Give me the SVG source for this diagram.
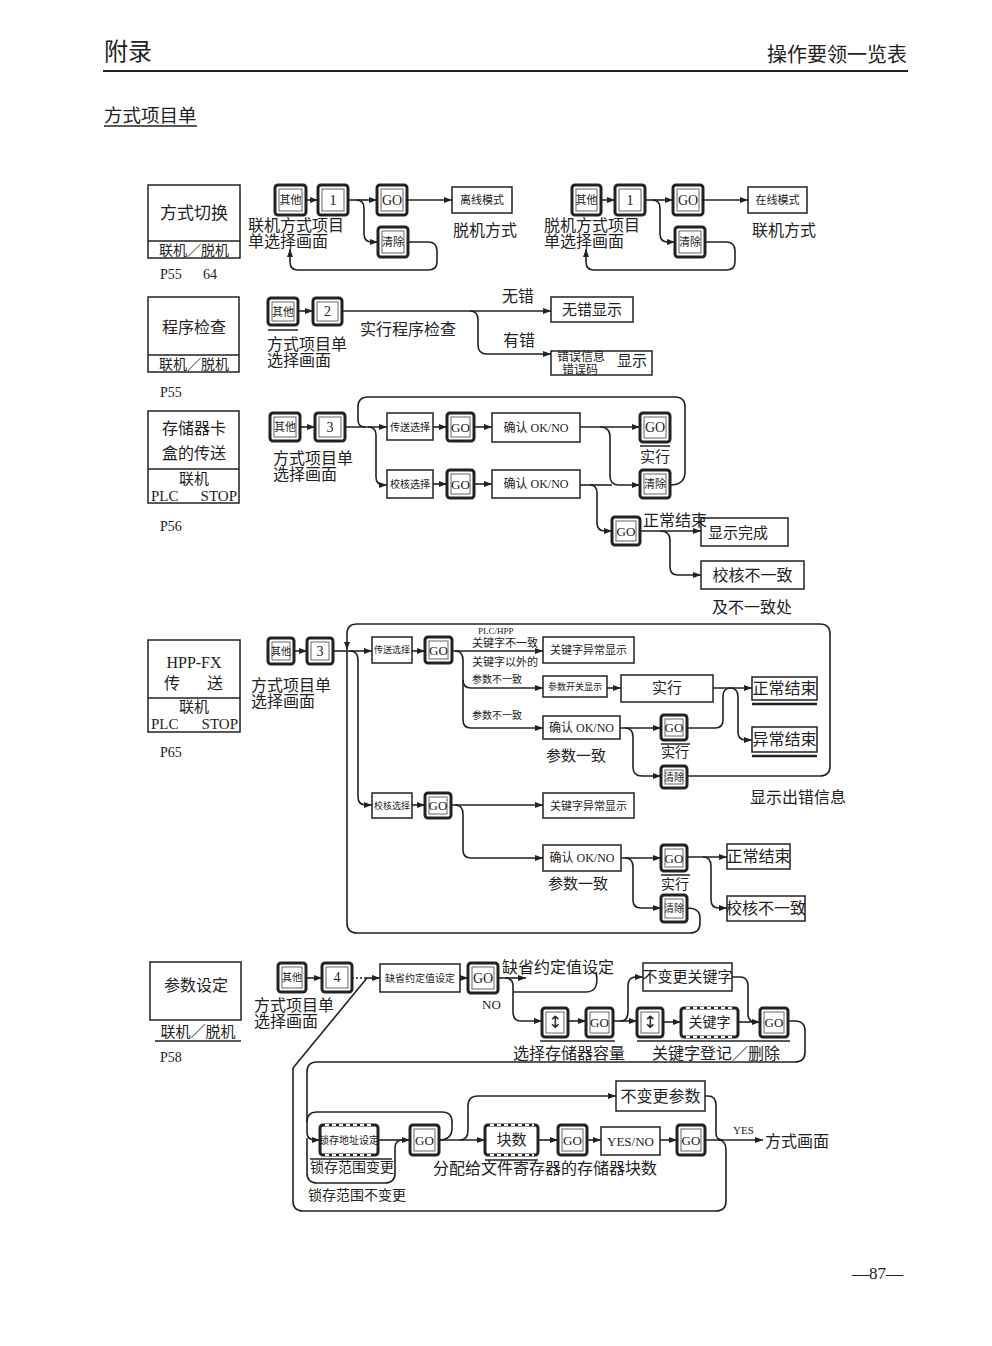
<svg xmlns="http://www.w3.org/2000/svg" width="992" height="1346" viewBox="0 0 992 1346">
<style>
text{font-family:"Liberation Serif","Noto Sans CJK SC",serif;fill:#222;dominant-baseline:central}
.m{text-anchor:middle}
.e{text-anchor:end}
.k{fill:#fff;stroke:#222;stroke-width:3}
.ki{fill:none;stroke:#666;stroke-width:1}
.b{fill:#fff;stroke:#222;stroke-width:1.5}
.c{fill:none;stroke:#222;stroke-width:1.6}
.ca{fill:none;stroke:#222;stroke-width:1.6;marker-end:url(#a)}
.u{stroke:#222;stroke-width:1.5}
.uu{stroke:#222;stroke-width:2.5}
.d{stroke:#fff;stroke-width:2;stroke-dasharray:4 3}
.f9{font-size:9px}.f10{font-size:10px}.f11{font-size:11px}.f12{font-size:12px}.f13{font-size:13px}
.f14{font-size:14px}.f15{font-size:15px}.f16{font-size:16px}.f17{font-size:17px}.f18{font-size:18.5px}.f20{font-size:20px}.f24{font-size:24px}
.sym{font-family:"DejaVu Sans",sans-serif;font-size:17px}
</style>
<defs>
<marker id="a" viewBox="0 0 8 6" refX="8" refY="3" markerWidth="8" markerHeight="6" orient="auto" markerUnits="userSpaceOnUse"><path d="M0,0 L8,3 L0,6 z" fill="#222"/></marker>
</defs>
<rect width="992" height="1346" fill="#fff"/>

<g id="header">
<text class="f24" x="104" y="52">附录</text>
<text class="f20 e" x="907" y="55">操作要领一览表</text>
<line x1="103" y1="71" x2="908" y2="71" stroke="#222" stroke-width="2"/>
<text class="f18" x="104" y="116">方式项目单</text>
<line class="u" x1="104" y1="126" x2="197" y2="126" stroke-width="1"/>
<text class="f17" x="852" y="1273">—87—</text>
</g>

<!-- ===== Section 1 ===== -->
<g id="mode-switch">
<rect class="b" x="148" y="185" width="92" height="73"/>
<line class="u" x1="148" y1="241" x2="240" y2="241"/>
<text class="m f17" x="194" y="213">方式切换</text>
<text class="m f14" x="194" y="250">联机／脱机</text>
<text class="f14" x="160" y="274">P55</text><text class="f14" x="203" y="274">64</text>
</g>
<g id="s1-other"><rect class="k" x="275" y="185" width="31" height="30" rx="3"/><rect class="ki" x="279" y="189" width="23" height="22"/><text class="m f11" x="290.5" y="200">其他</text></g>
<g id="s1-1"><rect class="k" x="318" y="185" width="30" height="30" rx="3"/><rect class="ki" x="322" y="189" width="22" height="22"/><text class="m f15" x="333" y="200">1</text></g>
<g id="s1-go"><rect class="k" x="377" y="185" width="30" height="30" rx="3"/><rect class="ki" x="381" y="189" width="22" height="22"/><text class="m f14" x="392" y="200">GO</text></g>
<g id="s1-offline"><rect class="b" x="452" y="187" width="60" height="26"/><text class="m f11" x="482" y="200">离线模式</text></g>
<g id="s1-clear"><rect class="k" x="378" y="227" width="30" height="30" rx="3"/><rect class="ki" x="382" y="231" width="22" height="22"/><text class="m f11" x="393" y="242">清除</text></g>
<g id="s1-labels">
<text class="f16" x="248" y="225">联机方式项目</text>
<text class="f16" x="248" y="241">单选择画面</text>
<text class="f16" x="453" y="230">脱机方式</text>
<text class="f16" x="544" y="225">脱机方式项目</text>
<text class="f16" x="544" y="241">单选择画面</text>
<text class="f16" x="752" y="230">联机方式</text>
</g>
<g id="s1b-other"><rect class="k" x="572" y="185" width="29" height="30" rx="3"/><rect class="ki" x="576" y="189" width="21" height="22"/><text class="m f11" x="586.5" y="200">其他</text></g>
<g id="s1b-1"><rect class="k" x="615" y="185" width="30" height="30" rx="3"/><rect class="ki" x="619" y="189" width="22" height="22"/><text class="m f15" x="630" y="200">1</text></g>
<g id="s1b-go"><rect class="k" x="673" y="185" width="30" height="30" rx="3"/><rect class="ki" x="677" y="189" width="22" height="22"/><text class="m f14" x="688" y="200">GO</text></g>
<g id="s1b-online"><rect class="b" x="748" y="187" width="59" height="26"/><text class="m f11" x="777.5" y="200">在线模式</text></g>
<g id="s1b-clear"><rect class="k" x="675" y="227" width="30" height="30" rx="3"/><rect class="ki" x="679" y="231" width="22" height="22"/><text class="m f11" x="690" y="242">清除</text></g>

<!-- ===== Section 2 ===== -->
<g id="prog-check">
<rect class="b" x="148" y="297" width="91" height="75"/>
<line class="u" x1="148" y1="355" x2="239" y2="355"/>
<text class="m f16" x="194" y="327">程序检查</text>
<text class="m f14" x="194" y="364">联机／脱机</text>
<text class="f14" x="160" y="392">P55</text>
</g>
<g id="s2-other"><rect class="k" x="268" y="298" width="30" height="27" rx="3"/><rect class="ki" x="272" y="302" width="22" height="19"/><text class="m f11" x="283" y="311.5">其他</text><line class="u" x1="268" y1="330" x2="298" y2="330"/></g>
<g id="s2-2"><rect class="k" x="313" y="298" width="29" height="27" rx="3"/><rect class="ki" x="317" y="302" width="21" height="19"/><text class="m f14" x="327.5" y="311.5">2</text></g>
<g id="s2-noerr"><rect class="b" x="551" y="297" width="82" height="25"/><text class="m f15" x="592" y="310">无错显示</text></g>
<g id="s2-err"><rect class="b" x="551" y="351" width="101" height="24"/><text class="f12" x="557" y="357">错误信息</text><text class="f12" x="562" y="370">错误码</text><text class="f15" x="617" y="361">显示</text></g>
<g id="s2-labels">
<text class="f16" x="502" y="296">无错</text>
<text class="f16" x="503" y="340">有错</text>
<text class="f16" x="360" y="329">实行程序检查</text>
<text class="f16" x="267" y="344">方式项目单</text>
<text class="f16" x="267" y="360">选择画面</text>
</g>

<!-- ===== Section 3 ===== -->
<g id="card-transfer">
<rect class="b" x="148" y="411" width="91" height="92"/>
<line class="u" x1="148" y1="469" x2="239" y2="469"/>
<text class="m f16" x="194" y="428">存储器卡</text>
<text class="m f16" x="194" y="453">盒的传送</text>
<text class="m f15" x="194" y="479">联机</text>
<text class="f15" x="151" y="496">PLC</text><text class="f15 e" x="237" y="496">STOP</text>
<text class="f14" x="160" y="526">P56</text>
</g>
<g id="s3-other"><rect class="k" x="270" y="413" width="30" height="28" rx="3"/><rect class="ki" x="274" y="417" width="22" height="20"/><text class="m f11" x="285" y="427">其他</text></g>
<g id="s3-3"><rect class="k" x="315" y="413" width="30" height="28" rx="3"/><rect class="ki" x="319" y="417" width="22" height="20"/><text class="m f14" x="330" y="427">3</text></g>
<g id="s3-send"><rect class="b" x="387" y="413" width="46" height="27"/><text class="m f10" x="410" y="427">传送选择</text></g>
<g id="s3-go1"><rect class="k" x="447" y="413" width="27" height="28" rx="3"/><rect class="ki" x="451" y="417" width="19" height="20"/><text class="m f13" x="460.5" y="427">GO</text></g>
<g id="s3-ok1"><rect class="b" x="492" y="413" width="88" height="29"/><text class="m f12" x="536" y="427.5">确认 OK/NO</text></g>
<g id="s3-go2"><rect class="k" x="640" y="413" width="30" height="29" rx="3"/><rect class="ki" x="644" y="417" width="22" height="21"/><text class="m f14" x="655" y="427.5">GO</text><line class="u" x1="640" y1="446" x2="670" y2="446"/></g>
<g id="s3-clear"><rect class="k" x="640" y="470" width="30" height="28" rx="3"/><rect class="ki" x="644" y="474" width="22" height="20"/><text class="m f11" x="655" y="484">清除</text></g>
<g id="s3-verify"><rect class="b" x="387" y="470" width="46" height="28"/><text class="m f10" x="410" y="484">校核选择</text></g>
<g id="s3-go3"><rect class="k" x="447" y="470" width="27" height="28" rx="3"/><rect class="ki" x="451" y="474" width="19" height="20"/><text class="m f13" x="460.5" y="484">GO</text></g>
<g id="s3-ok2"><rect class="b" x="492" y="470" width="88" height="28"/><text class="m f12" x="536" y="484">确认 OK/NO</text></g>
<g id="s3-go4"><rect class="k" x="612" y="517" width="28" height="28" rx="3"/><rect class="ki" x="616" y="521" width="20" height="20"/><text class="m f13" x="626" y="531">GO</text></g>
<g id="s3-done"><rect class="b" x="701" y="518" width="87" height="28"/><text class="f15" x="708" y="533">显示完成</text></g>
<g id="s3-mismatch"><rect class="b" x="701" y="561" width="103" height="28"/><text class="m f16" x="752.5" y="575">校核不一致</text></g>
<g id="s3-labels">
<text class="f16" x="273" y="458">方式项目单</text>
<text class="f16" x="273" y="474">选择画面</text>
<text class="m f15" x="655" y="457">实行</text>
<text class="f16" x="643" y="520">正常结束</text>
<text class="f16" x="712" y="607">及不一致处</text>
</g>

<!-- ===== Section 4 ===== -->
<g id="hpp-fx">
<rect class="b" x="148" y="640" width="92" height="92"/>
<line class="u" x1="148" y1="698" x2="240" y2="698"/>
<text class="m f16" x="194" y="662">HPP-FX</text>
<text class="m f16" x="172" y="683">传</text><text class="m f16" x="215" y="683">送</text>
<text class="m f15" x="194" y="707">联机</text>
<text class="f15" x="151" y="724">PLC</text><text class="f15 e" x="238" y="724">STOP</text>
<text class="f14" x="160" y="752">P65</text>
</g>
<g id="s4-other"><rect class="k" x="268" y="638" width="26" height="26" rx="3"/><rect class="ki" x="272" y="642" width="18" height="18"/><text class="m f10" x="281" y="651">其他</text></g>
<g id="s4-3"><rect class="k" x="307" y="638" width="26" height="26" rx="3"/><rect class="ki" x="311" y="642" width="18" height="18"/><text class="m f14" x="320" y="651">3</text></g>
<g id="s4-send"><rect class="b" x="372" y="637" width="40" height="26"/><text class="m f9" x="392" y="650">传送选择</text></g>
<g id="s4-go1"><rect class="k" x="425" y="637" width="27" height="26" rx="3"/><rect class="ki" x="429" y="641" width="19" height="18"/><text class="m f13" x="438.5" y="650">GO</text></g>
<g id="s4-keyerr1"><rect class="b" x="543" y="637" width="91" height="26"/><text class="m f11" x="588.5" y="650">关键字异常显示</text></g>
<g id="s4-param"><rect class="b" x="543" y="676" width="64" height="21"/><text class="m f9" x="575" y="686.5">参数开关显示</text></g>
<g id="s4-ok1"><rect class="b" x="543" y="716" width="77" height="23"/><text class="m f12" x="581.5" y="727.5">确认 OK/NO</text></g>
<g id="s4-exec"><rect class="b" x="621" y="675" width="92" height="27"/><text class="m f15" x="667" y="688">实行</text></g>
<g id="s4-ok-end"><rect class="b" x="752" y="677" width="65" height="23"/><text class="m f16" x="784.5" y="688.5">正常结束</text><line class="uu" x1="752" y1="704" x2="817" y2="704"/></g>
<g id="s4-ng-end"><rect class="b" x="752" y="727" width="65" height="25"/><text class="m f16" x="784.5" y="739.5">异常结束</text><line class="uu" x1="752" y1="756" x2="817" y2="756"/></g>
<g id="s4-go2"><rect class="k" x="661" y="715" width="26" height="25" rx="3"/><rect class="ki" x="665" y="719" width="18" height="17"/><text class="m f13" x="674" y="727.5">GO</text><line class="u" x1="661" y1="744" x2="690" y2="744"/></g>
<g id="s4-clear1"><rect class="k" x="661" y="766" width="26" height="22" rx="3"/><rect class="ki" x="665" y="770" width="18" height="14"/><text class="m f10" x="674" y="777">清除</text></g>
<g id="s4-verify"><rect class="b" x="372" y="793" width="40" height="25"/><text class="m f9" x="392" y="805.5">校核选择</text></g>
<g id="s4-go3"><rect class="k" x="425" y="793" width="26" height="25" rx="3"/><rect class="ki" x="429" y="797" width="18" height="17"/><text class="m f13" x="438" y="805.5">GO</text></g>
<g id="s4-keyerr2"><rect class="b" x="543" y="793" width="91" height="25"/><text class="m f11" x="588.5" y="805.5">关键字异常显示</text></g>
<g id="s4-ok2"><rect class="b" x="543" y="845" width="78" height="26"/><text class="m f12" x="582" y="858">确认 OK/NO</text></g>
<g id="s4-go4"><rect class="k" x="661" y="845" width="26" height="26" rx="3"/><rect class="ki" x="665" y="849" width="18" height="18"/><text class="m f13" x="674" y="858">GO</text><line class="u" x1="661" y1="875" x2="690" y2="875"/></g>
<g id="s4-ok-end2"><rect class="b" x="727" y="844" width="63" height="25"/><text class="m f16" x="758.5" y="856.5">正常结束</text></g>
<g id="s4-mismatch"><rect class="b" x="727" y="896" width="78" height="25"/><text class="m f16" x="766" y="908.5">校核不一致</text></g>
<g id="s4-clear2"><rect class="k" x="661" y="895" width="26" height="27" rx="3"/><rect class="ki" x="665" y="899" width="18" height="19"/><text class="m f10" x="674" y="908.5">清除</text></g>
<g id="s4-labels">
<text class="f16" x="251" y="685">方式项目单</text>
<text class="f16" x="251" y="701">选择画面</text>
<text class="f9" x="478" y="631">PLC/HPP</text>
<text class="f11" x="472" y="643">关键字不一致</text>
<text class="f11" x="472" y="662">关键字以外的</text>
<text class="f10" x="472" y="679">参数不一致</text>
<text class="f10" x="472" y="715">参数不一致</text>
<text class="f15" x="546" y="756">参数一致</text>
<text class="m f14" x="675" y="752">实行</text>
<text class="f16" x="750" y="797">显示出错信息</text>
<text class="f15" x="548" y="884">参数一致</text>
<text class="m f14" x="675" y="884">实行</text>
</g>

<!-- ===== Section 5 ===== -->
<g id="param-set">
<rect class="b" x="150" y="962" width="91" height="58"/>
<text class="m f16" x="196" y="985">参数设定</text>
<text class="m f15" x="198" y="1032">联机／脱机</text>
<line class="u" x1="155" y1="1041" x2="241" y2="1041"/>
<text class="f14" x="160" y="1057">P58</text>
</g>
<g id="s5-other"><rect class="k" x="278" y="963" width="28" height="29" rx="3"/><rect class="ki" x="282" y="967" width="20" height="21"/><text class="m f10" x="292" y="977.5">其他</text></g>
<g id="s5-4"><rect class="k" x="322" y="963" width="30" height="29" rx="3"/><rect class="ki" x="326" y="967" width="22" height="21"/><text class="m f14" x="337" y="977.5">4</text></g>
<g id="s5-default"><rect class="b" x="380" y="964" width="80" height="28"/><text class="m f10" x="420" y="978">缺省约定值设定</text></g>
<g id="s5-go1"><rect class="k" x="468" y="963" width="30" height="30" rx="3"/><rect class="ki" x="472" y="967" width="22" height="22"/><text class="m f14" x="483" y="978">GO</text></g>
<g id="s5-ud1"><rect class="k" x="542" y="1008" width="26" height="29" rx="3"/><rect class="ki" x="546" y="1012" width="18" height="21"/><text class="m sym" x="555" y="1022">↕</text></g>
<g id="s5-go2"><rect class="k" x="586" y="1008" width="27" height="29" rx="3"/><rect class="ki" x="590" y="1012" width="19" height="21"/><text class="m f13" x="599.5" y="1022">GO</text></g>
<g id="s5-nokey"><rect class="b" x="643" y="963" width="89" height="28"/><text class="m f15" x="687.5" y="977">不变更关键字</text></g>
<g id="s5-ud2"><rect class="k" x="637" y="1008" width="26" height="29" rx="3"/><rect class="ki" x="641" y="1012" width="18" height="21"/><text class="m sym" x="650" y="1022">↕</text></g>
<g id="s5-key"><rect class="k" x="681" y="1008" width="57" height="29" rx="3"/><line class="d" x1="686" y1="1008" x2="734" y2="1008"/><line class="d" x1="686" y1="1037" x2="734" y2="1037"/><text class="m f14" x="709.5" y="1022">关键字</text></g>
<g id="s5-go3"><rect class="k" x="760" y="1008" width="28" height="29" rx="3"/><rect class="ki" x="764" y="1012" width="20" height="21"/><text class="m f13" x="774" y="1022">GO</text></g>
<g id="s5-latch"><rect class="k" x="320" y="1125" width="58" height="30" rx="3"/><line class="d" x1="325" y1="1125" x2="374" y2="1125"/><line class="d" x1="325" y1="1155" x2="374" y2="1155"/><text class="m f10" x="349" y="1140">锁存地址设定</text></g>
<g id="s5-go4"><rect class="k" x="410" y="1125" width="29" height="30" rx="3"/><rect class="ki" x="414" y="1129" width="21" height="22"/><text class="m f13" x="424.5" y="1140">GO</text></g>
<g id="s5-blocks"><rect class="k" x="485" y="1125" width="53" height="30" rx="3"/><line class="d" x1="490" y1="1125" x2="534" y2="1125"/><line class="d" x1="490" y1="1155" x2="534" y2="1155"/><text class="m f15" x="511.5" y="1140">块数</text></g>
<g id="s5-go5"><rect class="k" x="558" y="1125" width="29" height="30" rx="3"/><rect class="ki" x="562" y="1129" width="21" height="22"/><text class="m f13" x="572.5" y="1140">GO</text></g>
<g id="s5-yesno"><rect class="b" x="601" y="1127" width="59" height="28"/><text class="m f13" x="630.5" y="1141">YES/NO</text></g>
<g id="s5-go6"><rect class="k" x="677" y="1125" width="28" height="30" rx="3"/><rect class="ki" x="681" y="1129" width="20" height="22"/><text class="m f13" x="691" y="1140">GO</text></g>
<g id="s5-noparam"><rect class="b" x="616" y="1081" width="89" height="30"/><text class="m f16" x="660.5" y="1096">不变更参数</text></g>
<g id="s5-labels">
<text class="f16" x="254" y="1005">方式项目单</text>
<text class="f16" x="254" y="1021">选择画面</text>
<text class="f13" x="482" y="1004">NO</text>
<text class="f16" x="502" y="967">缺省约定值设定</text>
<line class="u" x1="540" y1="1041" x2="615" y2="1041"/>
<line class="u" x1="637" y1="1041" x2="790" y2="1041"/>
<text class="f16" x="513" y="1053">选择存储器容量</text>
<text class="f16" x="652" y="1053">关键字登记／删除</text>
<line class="u" x1="310" y1="1159" x2="392" y2="1159"/>
<text class="f14" x="310" y="1167">锁存范围变更</text>
<text class="f14" x="308" y="1195">锁存范围不变更</text>
<line class="u" x1="485" y1="1160" x2="538" y2="1160"/>
<text class="f16" x="433" y="1168">分配给文件寄存器的存储器块数</text>
<text class="f11" x="733" y="1130">YES</text>
<text class="f16" x="765" y="1141">方式画面</text>
</g>

<g id="connectors">
<!-- s1 -->
<path class="ca" d="M306,200 L318,200"/>
<path class="ca" d="M348,200 L377,200"/>
<path class="ca" d="M356,200 Q364,200 364,208 L364,234 Q364,242 372,242 L378,242"/>
<path class="ca" d="M407,200 L452,200"/>
<path class="ca" d="M408,242 L428,242 Q437,242 437,251 L437,262 Q437,270 428,270 L298,270 Q290,270 290,262 L290,249"/>
<path class="ca" d="M601,200 L615,200"/>
<path class="ca" d="M645,200 L673,200"/>
<path class="ca" d="M652,200 Q660,200 660,208 L660,234 Q660,242 668,242 L675,242"/>
<path class="ca" d="M703,200 L748,200"/>
<path class="ca" d="M705,242 L726,242 Q735,242 735,251 L735,262 Q735,270 726,270 L594,270 Q586,270 586,262 L586,249"/>
<!-- s2 -->
<path class="ca" d="M298,311 L313,311"/>
<path class="ca" d="M342,311 L551,311"/>
<path class="ca" d="M470,311 Q478,311 478,320 L478,345 Q478,354 487,354 L551,354"/>
<!-- s3 -->
<path class="ca" d="M300,427 L315,427"/>
<path class="ca" d="M345,427 L387,427"/>
<path class="ca" d="M368,427 Q376,427 376,435 L376,477 Q376,485 384,485 L387,485"/>
<path class="c" d="M670,485 Q685,485 685,472 L685,407 Q685,397 675,397 L368,397 Q358,397 358,407 L358,420 Q358,427 365,427"/>
<path class="ca" d="M433,427 L447,427"/>
<path class="ca" d="M474,427 L492,427"/>
<path class="ca" d="M580,427 L640,427"/>
<path class="ca" d="M600,427 Q610,427 610,437 L610,476 Q610,485 619,485 L640,485"/>
<path class="ca" d="M433,484 L447,484"/>
<path class="ca" d="M474,484 L492,484"/>
<path class="c" d="M580,485 L612,485"/>
<path class="ca" d="M590,485 Q597,485 597,493 L597,523 Q597,531 605,531 L612,531"/>
<path class="ca" d="M640,531 L701,531"/>
<path class="ca" d="M660,531 Q670,531 670,540 L670,567 Q670,575 678,575 L701,575"/>
<!-- s4 -->
<path class="ca" d="M294,651 L307,651"/>
<path class="c" d="M333,651 L347,651"/>
<path class="ca" d="M687,776 L820,776 Q830,776 830,766 L830,634 Q830,624 820,624 L357,624 Q347,624 347,634 L347,650"/>
<path class="c" d="M687,908 Q700,908 700,918 L700,923 Q700,933 690,933 L357,933 Q347,933 347,923 L347,651"/>
<path class="ca" d="M347,651 L372,651"/>
<path class="ca" d="M350,651 Q358,651 358,660 L358,797 Q358,805 366,805 L372,805"/>
<path class="ca" d="M412,651 L425,651"/>
<path class="ca" d="M452,651 L543,651"/>
<path class="ca" d="M455,651 Q463,651 463,660 L463,680 Q463,688 471,688 L543,688"/>
<path class="ca" d="M463,680 L463,720 Q463,728 471,728 L543,728"/>
<path class="ca" d="M607,688 L621,688"/>
<path class="ca" d="M713,688 L752,688"/>
<path class="ca" d="M730,688 Q738,688 738,697 L738,732 Q738,740 746,740 L752,740"/>
<path class="ca" d="M620,728 L661,728"/>
<path class="c" d="M687,728 L715,728 Q723,728 723,720 L723,696 Q723,688 731,688"/>
<path class="ca" d="M625,728 Q633,728 633,737 L633,767 Q633,776 642,776 L661,776"/>
<path class="ca" d="M412,805 L425,805"/>
<path class="ca" d="M451,805 L543,805"/>
<path class="ca" d="M455,805 Q463,805 463,814 L463,850 Q463,858 471,858 L543,858"/>
<path class="ca" d="M621,858 L661,858"/>
<path class="ca" d="M687,857 L727,857"/>
<path class="ca" d="M703,857 Q711,857 711,866 L711,900 Q711,908 719,908 L727,908"/>
<path class="ca" d="M625,858 Q633,858 633,867 L633,900 Q633,908 641,908 L661,908"/>
<!-- s5 -->
<path class="ca" d="M306,978 L322,978"/>
<path class="c" d="M352,978 L366,978" stroke-dasharray="2 2"/>
<path class="ca" d="M366,978 L380,978"/>
<path class="ca" d="M460,978 L468,978"/>
<path class="ca" d="M498,978 L526,978"/>
<path class="c" d="M596,972 Q600,992 586,992 L513,992"/>
<path class="ca" d="M505,978 Q513,978 513,986 L513,1012 Q513,1021 521,1021 L542,1021"/>
<path class="ca" d="M568,1021 L586,1021"/>
<path class="ca" d="M613,1021 L637,1021"/>
<path class="ca" d="M620,1021 Q628,1021 628,1012 L628,986 Q628,977 636,977 L643,977"/>
<path class="ca" d="M663,1022 L681,1022"/>
<path class="ca" d="M738,1022 L760,1022"/>
<path class="c" d="M732,977 L740,977 Q748,977 748,986 L748,1014 Q748,1022 756,1022"/>
<path class="ca" d="M788,1021 L795,1021 Q805,1021 805,1031 L805,1052 Q805,1062 795,1062 L317,1062 Q307,1062 307,1072 L307,1132 Q307,1140 315,1140 L320,1140"/>
<path class="c" d="M439,1140 Q452,1140 452,1128 L452,1122 Q452,1112 442,1112 L317,1112 Q307,1112 307,1122"/>
<path class="c" d="M307,1138 L307,1173 Q307,1183 317,1183 L385,1183 Q395,1183 395,1173 L395,1148 Q395,1140 403,1140"/>
<path class="ca" d="M378,1140 L410,1140"/>
<path class="ca" d="M439,1140 L485,1140"/>
<path class="ca" d="M460,1140 Q468,1140 468,1130 L468,1106 Q468,1096 478,1096 L616,1096"/>
<path class="ca" d="M538,1140 L558,1140"/>
<path class="ca" d="M587,1140 L601,1140"/>
<path class="ca" d="M660,1140 L677,1140"/>
<path class="ca" d="M705,1140 L763,1140"/>
<path class="c" d="M705,1096 L708,1096 Q716,1096 716,1105 L716,1133 Q716,1140 723,1140"/>
<path class="c" d="M718,1140 Q726,1140 726,1150 L726,1201 Q726,1211 716,1211 L303,1211 Q293,1211 293,1201 L293,1068 L367,978"/>
</g>
</svg>
